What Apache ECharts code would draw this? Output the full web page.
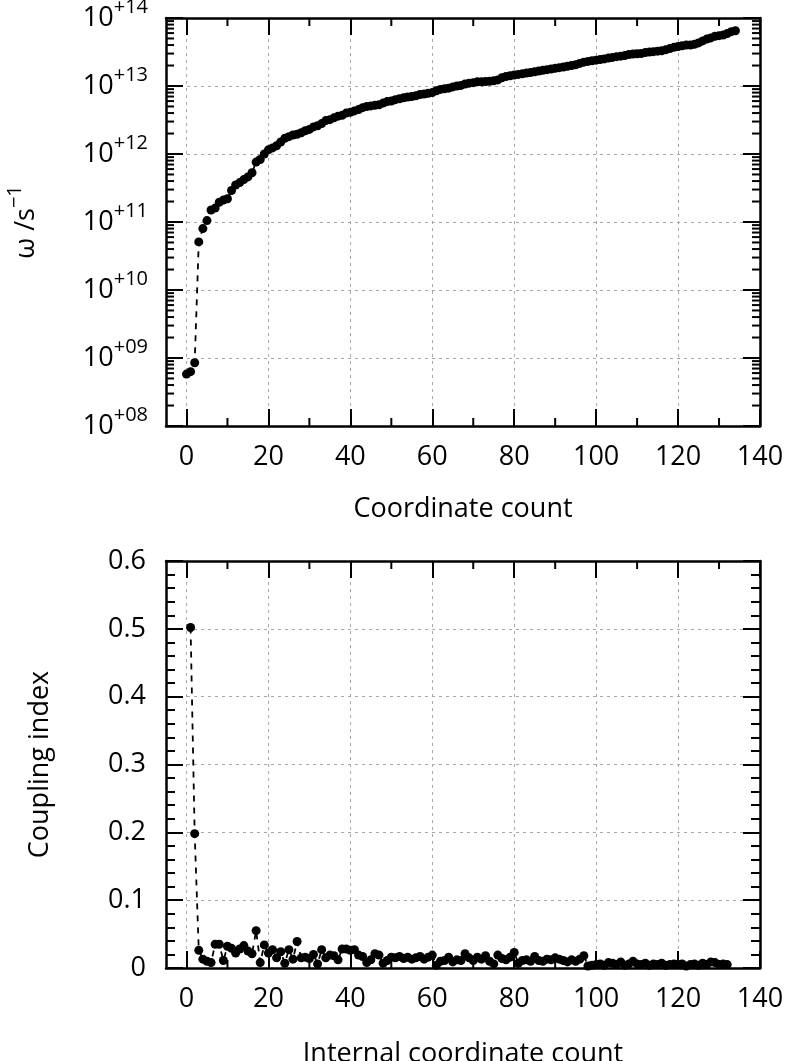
<!DOCTYPE html>
<html><head><meta charset="utf-8">
<script src="https://cdn.jsdelivr.net/npm/echarts@6/dist/echarts.min.js"></script>
<style>html,body{margin:0;padding:0;background:#fff}#c{width:787px;height:1061px}</style>
</head><body><div id="c"></div>
<script>
// ---- data ----
// top panel: omega (s^-1) for coordinate count 0..134
const omegaValues = [
  5.8e8, 6.3e8, 8.5e8, 5.1e10, 8.0e10, 1.05e11, 1.5e11, 1.6e11, 1.95e11, 2.1e11,
  2.2e11, 2.9e11, 3.5e11, 3.8e11, 4.2e11, 4.6e11, 5.3e11, 7.6e11, 8.3e11, 1.0e12,
  1.15e12, 1.23e12, 1.32e12, 1.5e12, 1.7e12, 1.8e12, 1.9e12, 1.95e12, 2.05e12, 2.2e12,
  2.3e12, 2.5e12, 2.6e12, 2.8e12, 3.1e12, 3.2e12, 3.4e12, 3.6e12, 3.7e12, 4.0e12,
  4.1e12, 4.3e12, 4.5e12, 4.8e12, 5.0e12, 5.1e12, 5.2e12, 5.3e12, 5.6e12, 5.9e12,
  6.0e12, 6.3e12, 6.5e12, 6.7e12, 6.9e12, 7.0e12, 7.2e12, 7.5e12, 7.6e12, 7.8e12,
  8.0e12, 8.5e12, 8.9e12, 9.1e12, 9.3e12, 9.7e12, 1.0e13, 1.02e13, 1.07e13, 1.1e13,
  1.12e13, 1.15e13, 1.15e13, 1.16e13, 1.17e13, 1.19e13, 1.23e13, 1.32e13, 1.38e13, 1.41e13,
  1.45e13, 1.48e13, 1.51e13, 1.55e13, 1.58e13, 1.62e13, 1.66e13, 1.7e13, 1.74e13, 1.78e13,
  1.82e13, 1.86e13, 1.9e13, 1.95e13, 2.0e13, 2.05e13, 2.15e13, 2.24e13, 2.3e13, 2.35e13,
  2.4e13, 2.45e13, 2.5e13, 2.57e13, 2.63e13, 2.7e13, 2.75e13, 2.8e13, 2.9e13, 2.95e13,
  2.98e13, 3.0e13, 3.1e13, 3.15e13, 3.2e13, 3.25e13, 3.3e13, 3.4e13, 3.55e13, 3.7e13,
  3.8e13, 3.9e13, 4.0e13, 4.0e13, 4.1e13, 4.3e13, 4.6e13, 4.9e13, 5.1e13, 5.4e13,
  5.5e13, 5.6e13, 5.9e13, 6.3e13, 6.5e13
];
const omegaStart = 0;

// bottom panel: coupling index for internal coordinate count 1..132
const couplingValues = [
  0.502, 0.198, 0.026, 0.013, 0.010, 0.008, 0.035, 0.035, 0.011, 0.032,
  0.029, 0.022, 0.028, 0.033, 0.025, 0.021, 0.055, 0.008, 0.034, 0.022,
  0.027, 0.015, 0.024, 0.007, 0.027, 0.013, 0.039, 0.015, 0.016, 0.014,
  0.020, 0.006, 0.027, 0.015, 0.019, 0.018, 0.012, 0.028, 0.028, 0.026,
  0.027, 0.019, 0.017, 0.008, 0.012, 0.021, 0.019, 0.007, 0.011, 0.016,
  0.015, 0.017, 0.014, 0.016, 0.013, 0.015, 0.017, 0.013, 0.016, 0.019,
  0.004, 0.010, 0.011, 0.016, 0.009, 0.012, 0.011, 0.021, 0.015, 0.011,
  0.016, 0.013, 0.018, 0.010, 0.006, 0.019, 0.014, 0.012, 0.016, 0.023,
  0.007, 0.011, 0.012, 0.010, 0.017, 0.011, 0.010, 0.013, 0.012, 0.015,
  0.013, 0.011, 0.009, 0.012, 0.010, 0.013, 0.018, 0.003, 0.004, 0.005,
  0.006, 0.004, 0.008, 0.007, 0.005, 0.009, 0.004, 0.006, 0.010, 0.006,
  0.005, 0.007, 0.004, 0.006, 0.005, 0.007, 0.004, 0.005, 0.006, 0.005,
  0.006, 0.003, 0.005, 0.006, 0.004, 0.007, 0.005, 0.009, 0.008, 0.005,
  0.006, 0.005
];
const couplingStart = 1;

// axis ticks
const xMajorTicks = [0, 20, 40, 60, 80, 100, 120, 140];
const xMinorTicks = [10, 30, 50, 70, 90, 110, 130];
const logDecades = [8, 9, 10, 11, 12, 13];
const logMinorMantissas = [2, 3, 4, 5, 6, 7, 8, 9];

const xTitleTop = 'Coordinate count';
const xTitleBottom = 'Internal coordinate count';
const yTitleBottom = 'Coupling index';

// ---- build ----
const FONT = '"Open Sans", "Noto Sans", sans-serif';
const omegaData = omegaValues.map((v, i) => [omegaStart + i, v]);
const couplingData = couplingValues.map((v, i) => [couplingStart + i, v]);

const topMinor = [];
xMinorTicks.forEach(x => topMinor.push([x, 1e10, 0]));
logDecades.forEach(d => logMinorMantissas.forEach(m => topMinor.push([10, m * Math.pow(10, d), 1])));
const bottomMinor = xMinorTicks.map(x => [x, 0.3, 0]);

function axisLine() { return { show: true, onZero: false, lineStyle: { color: '#000', width: 2.5 } }; }
function tickStyle() { return { color: '#000', width: 2 }; }
function gridLineStyle() { return { color: '#a8a8a8', type: [3, 4], width: 1 }; }
function labelStyle() { return { fontSize: 27, color: '#000', fontFamily: FONT }; }

function xAxes(gridIndex, title, gap) {
  return [
    {
      gridIndex, type: 'value', position: 'bottom', min: -5, max: 140,
      axisLine: axisLine(),
      axisTick: { show: true, inside: true, length: 17, customValues: xMajorTicks, lineStyle: tickStyle() },
      axisLabel: Object.assign({ customValues: xMajorTicks, margin: 18 }, labelStyle()),
      splitLine: { show: true, lineStyle: gridLineStyle() },
      name: title, nameLocation: 'middle', nameGap: gap,
      nameTextStyle: { fontSize: 27, color: '#000', fontFamily: FONT }
    },
    {
      gridIndex, type: 'value', position: 'top', min: -5, max: 140,
      axisLine: axisLine(),
      axisTick: { show: true, inside: true, length: 17, customValues: xMajorTicks, lineStyle: tickStyle() },
      axisLabel: { show: false }, splitLine: { show: false }
    }
  ];
}

function minorRender(params, api) {
  const cs = params.coordSys;
  const kind = api.value(2);
  const p = api.coord([api.value(0), api.value(1)]);
  const style = { stroke: '#000', lineWidth: 2 };
  if (kind === 0) {
    const b = cs.y + cs.height;
    return { type: 'group', children: [
      { type: 'line', shape: { x1: p[0], y1: b, x2: p[0], y2: b - 8 }, style },
      { type: 'line', shape: { x1: p[0], y1: cs.y, x2: p[0], y2: cs.y + 8 }, style }
    ]};
  }
  const r = cs.x + cs.width;
  return { type: 'group', children: [
    { type: 'line', shape: { x1: cs.x, y1: p[1], x2: cs.x + 8, y2: p[1] }, style },
    { type: 'line', shape: { x1: r, y1: p[1], x2: r - 8, y2: p[1] }, style }
  ]};
}

const option = {
  animation: false,
  backgroundColor: '#fff',
  grid: [
    { left: 166, right: 27, top: 18, height: 408, outerBoundsMode: 'none', containLabel: false },
    { left: 166, right: 27, top: 561, height: 407, outerBoundsMode: 'none', containLabel: false }
  ],
  xAxis: [].concat(xAxes(0, xTitleTop, 70), xAxes(1, xTitleBottom, 73)),
  yAxis: [
    {
      gridIndex: 0, type: 'log', logBase: 10, min: 1e8, max: 1e14, splitNumber: 6, position: 'left',
      axisLine: axisLine(),
      axisTick: { show: true, inside: true, length: 17, lineStyle: tickStyle() },
      axisLabel: {
        margin: 18,
        formatter: v => '{b|10}{s|+' + String(Math.round(Math.log10(v))).padStart(2, '0') + '}',
        rich: {
          b: { fontSize: 27, color: '#000', fontFamily: FONT, lineHeight: 27, verticalAlign: 'bottom' },
          s: { fontSize: 20, color: '#000', fontFamily: FONT, lineHeight: 20, padding: [0, 0, 14, 0], verticalAlign: 'bottom' }
        }
      },
      splitLine: { show: true, lineStyle: gridLineStyle() },
      name: '{n|ω /s}{s|−1}', nameLocation: 'middle', nameGap: 126, nameRotate: 90,
      nameTextStyle: {
        rich: {
          n: { fontSize: 27, color: '#000', fontFamily: FONT, lineHeight: 27, verticalAlign: 'bottom' },
          s: { fontSize: 20, color: '#000', fontFamily: FONT, lineHeight: 20, padding: [0, 0, 15, 0], verticalAlign: 'bottom' }
        }
      }
    },
    {
      gridIndex: 0, type: 'log', logBase: 10, min: 1e8, max: 1e14, splitNumber: 6, position: 'right',
      axisLine: axisLine(),
      axisTick: { show: true, inside: true, length: 17, lineStyle: tickStyle() },
      axisLabel: { show: false }, splitLine: { show: false }
    },
    {
      gridIndex: 1, type: 'value', min: 0, max: 0.6, interval: 0.1, position: 'left',
      axisLine: axisLine(),
      axisTick: { show: true, inside: true, length: 17, lineStyle: tickStyle() },
      minorTick: { show: true, splitNumber: 5, length: 9, lineStyle: tickStyle() },
      axisLabel: Object.assign({ margin: 20, formatter: v => v === 0 ? '0' : v.toFixed(1) }, labelStyle()),
      splitLine: { show: true, lineStyle: gridLineStyle() },
      name: yTitleBottom, nameLocation: 'middle', nameGap: 112, nameRotate: 90,
      nameTextStyle: { fontSize: 27, color: '#000', fontFamily: FONT }
    },
    {
      gridIndex: 1, type: 'value', min: 0, max: 0.6, interval: 0.1, position: 'right',
      axisLine: axisLine(),
      axisTick: { show: true, inside: true, length: 17, lineStyle: tickStyle() },
      minorTick: { show: true, splitNumber: 5, length: 9, lineStyle: tickStyle() },
      axisLabel: { show: false }, splitLine: { show: false }
    }
  ],
  series: [
    {
      type: 'line', xAxisIndex: 0, yAxisIndex: 0, data: omegaData,
      symbol: 'circle', symbolSize: 9, showAllSymbol: true,
      itemStyle: { color: '#000' },
      lineStyle: { color: '#000', width: 1.8, type: [6, 6] }, z: 5
    },
    {
      type: 'line', xAxisIndex: 2, yAxisIndex: 2, data: couplingData,
      symbol: 'circle', symbolSize: 9, showAllSymbol: true,
      itemStyle: { color: '#000' },
      lineStyle: { color: '#000', width: 1.8, type: [6, 6] }, z: 5
    },
    { type: 'custom', xAxisIndex: 0, yAxisIndex: 0, data: topMinor, renderItem: minorRender, silent: true, clip: false, z: 4 },
    { type: 'custom', xAxisIndex: 2, yAxisIndex: 2, data: bottomMinor, renderItem: minorRender, silent: true, clip: false, z: 4 }
  ]
};

echarts.init(document.getElementById('c'), null, { renderer: 'canvas' }).setOption(option);
</script>
</body></html>
